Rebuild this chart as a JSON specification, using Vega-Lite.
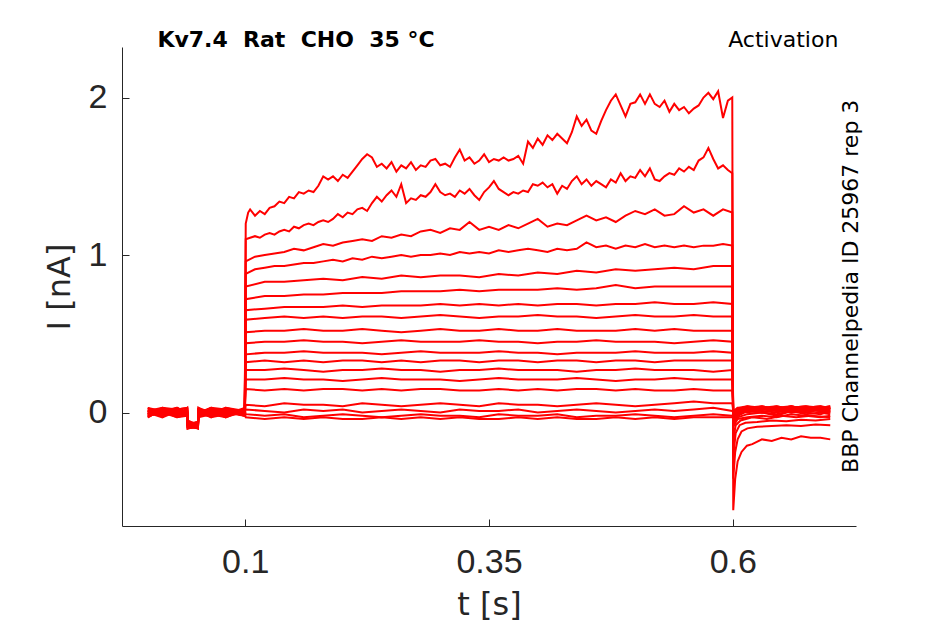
{
"$schema":"https://vega.github.io/schema/vega-lite/v6.json",
"width":734,"height":479,
"autosize":{"type":"none"},
"padding":{"left":122,"top":47,"right":89,"bottom":98},
"background":"#ffffff",
"config":{"view":{"stroke":null},"axis":{"grid":false,"labelFont":"Liberation Sans","labelFontSize":34,"labelColor":"#262626","titleFont":"DejaVu Sans","titleFontSize":32,"titleFontWeight":"normal","titleColor":"#262626","domainColor":"#262626","tickColor":"#262626","tickSize":-7,"domainWidth":1,"tickWidth":1}},
"data":{"values":[
{"s":"A","t":0,"v":0.01},{"s":"A","t":0.015,"v":-0.02},{"s":"A","t":0.03,"v":0.03},{"s":"A","t":0.0405,"v":0.0},{"s":"A","t":0.041,"v":-0.07},{"s":"A","t":0.0515,"v":-0.09},{"s":"A","t":0.052,"v":-0.01},{"s":"A","t":0.065,"v":0.03},{"s":"A","t":0.08,"v":-0.02},{"s":"A","t":0.0995,"v":0.0},
{"s":"A","t":0.1005,"v":1.20},{"s":"A","t":0.103,"v":1.27},{"s":"A","t":0.105,"v":1.29},{"s":"A","t":0.11,"v":1.25},{"s":"A","t":0.115,"v":1.28},{"s":"A","t":0.12,"v":1.26},{"s":"A","t":0.125,"v":1.30},{"s":"A","t":0.13,"v":1.31},{"s":"A","t":0.135,"v":1.34},{"s":"A","t":0.14,"v":1.33},{"s":"A","t":0.145,"v":1.37},{"s":"A","t":0.15,"v":1.36},{"s":"A","t":0.155,"v":1.40},{"s":"A","t":0.16,"v":1.39},{"s":"A","t":0.165,"v":1.41},{"s":"A","t":0.17,"v":1.40},{"s":"A","t":0.175,"v":1.44},{"s":"A","t":0.18,"v":1.50},{"s":"A","t":0.185,"v":1.48},{"s":"A","t":0.19,"v":1.50},{"s":"A","t":0.195,"v":1.47},{"s":"A","t":0.2,"v":1.51},{"s":"A","t":0.205,"v":1.49},{"s":"A","t":0.21,"v":1.53},{"s":"A","t":0.215,"v":1.57},{"s":"A","t":0.22,"v":1.61},{"s":"A","t":0.225,"v":1.64},{"s":"A","t":0.23,"v":1.62},{"s":"A","t":0.235,"v":1.56},{"s":"A","t":0.24,"v":1.58},{"s":"A","t":0.245,"v":1.55},{"s":"A","t":0.25,"v":1.59},{"s":"A","t":0.255,"v":1.53},{"s":"A","t":0.26,"v":1.57},{"s":"A","t":0.265,"v":1.55},{"s":"A","t":0.27,"v":1.59},{"s":"A","t":0.275,"v":1.54},{"s":"A","t":0.28,"v":1.57},{"s":"A","t":0.285,"v":1.56},{"s":"A","t":0.29,"v":1.60},{"s":"A","t":0.295,"v":1.61},{"s":"A","t":0.3,"v":1.57},{"s":"A","t":0.305,"v":1.58},{"s":"A","t":0.31,"v":1.56},{"s":"A","t":0.315,"v":1.62},{"s":"A","t":0.32,"v":1.67},{"s":"A","t":0.325,"v":1.60},{"s":"A","t":0.33,"v":1.62},{"s":"A","t":0.335,"v":1.58},{"s":"A","t":0.34,"v":1.60},{"s":"A","t":0.345,"v":1.64},{"s":"A","t":0.35,"v":1.59},{"s":"A","t":0.355,"v":1.61},{"s":"A","t":0.36,"v":1.60},{"s":"A","t":0.365,"v":1.62},{"s":"A","t":0.37,"v":1.60},{"s":"A","t":0.375,"v":1.61},{"s":"A","t":0.38,"v":1.63},{"s":"A","t":0.385,"v":1.58},{"s":"A","t":0.39,"v":1.72},{"s":"A","t":0.395,"v":1.68},{"s":"A","t":0.4,"v":1.74},{"s":"A","t":0.405,"v":1.70},{"s":"A","t":0.41,"v":1.76},{"s":"A","t":0.415,"v":1.73},{"s":"A","t":0.42,"v":1.77},{"s":"A","t":0.425,"v":1.74},{"s":"A","t":0.43,"v":1.71},{"s":"A","t":0.435,"v":1.78},{"s":"A","t":0.44,"v":1.88},{"s":"A","t":0.445,"v":1.82},{"s":"A","t":0.45,"v":1.86},{"s":"A","t":0.455,"v":1.79},{"s":"A","t":0.46,"v":1.77},{"s":"A","t":0.465,"v":1.85},{"s":"A","t":0.47,"v":1.92},{"s":"A","t":0.475,"v":1.98},{"s":"A","t":0.48,"v":2.02},{"s":"A","t":0.485,"v":1.95},{"s":"A","t":0.49,"v":1.88},{"s":"A","t":0.495,"v":1.96},{"s":"A","t":0.5,"v":1.97},{"s":"A","t":0.505,"v":2.02},{"s":"A","t":0.51,"v":1.96},{"s":"A","t":0.515,"v":2.02},{"s":"A","t":0.52,"v":1.96},{"s":"A","t":0.525,"v":1.94},{"s":"A","t":0.53,"v":1.98},{"s":"A","t":0.535,"v":1.91},{"s":"A","t":0.54,"v":1.96},{"s":"A","t":0.545,"v":1.92},{"s":"A","t":0.55,"v":1.94},{"s":"A","t":0.555,"v":1.90},{"s":"A","t":0.56,"v":1.93},{"s":"A","t":0.565,"v":1.95},{"s":"A","t":0.57,"v":2.00},{"s":"A","t":0.575,"v":2.03},{"s":"A","t":0.58,"v":1.99},{"s":"A","t":0.585,"v":2.04},{"s":"A","t":0.59,"v":1.87},{"s":"A","t":0.595,"v":1.98},{"s":"A","t":0.5995,"v":2.00},
{"s":"A","t":0.6005,"v":-0.62},{"s":"A","t":0.6025,"v":-0.42},{"s":"A","t":0.605,"v":-0.31},{"s":"A","t":0.609,"v":-0.25},{"s":"A","t":0.6145,"v":-0.21},{"s":"A","t":0.62,"v":-0.20},{"s":"A","t":0.63,"v":-0.17},{"s":"A","t":0.64,"v":-0.18},{"s":"A","t":0.65,"v":-0.16},{"s":"A","t":0.66,"v":-0.17},{"s":"A","t":0.67,"v":-0.15},{"s":"A","t":0.68,"v":-0.16},{"s":"A","t":0.69,"v":-0.16},{"s":"A","t":0.7,"v":-0.17},

{"s":"B","t":0,"v":-0.03},{"s":"B","t":0.015,"v":0.02},{"s":"B","t":0.03,"v":-0.01},{"s":"B","t":0.0405,"v":0.02},{"s":"B","t":0.041,"v":-0.08},{"s":"B","t":0.0515,"v":-0.06},{"s":"B","t":0.052,"v":0.02},{"s":"B","t":0.065,"v":-0.03},{"s":"B","t":0.08,"v":0.02},{"s":"B","t":0.0995,"v":-0.01},
{"s":"B","t":0.1005,"v":1.10},{"s":"B","t":0.105,"v":1.11},{"s":"B","t":0.11,"v":1.12},{"s":"B","t":0.115,"v":1.11},{"s":"B","t":0.12,"v":1.13},{"s":"B","t":0.125,"v":1.14},{"s":"B","t":0.13,"v":1.13},{"s":"B","t":0.135,"v":1.15},{"s":"B","t":0.14,"v":1.16},{"s":"B","t":0.145,"v":1.15},{"s":"B","t":0.15,"v":1.18},{"s":"B","t":0.155,"v":1.17},{"s":"B","t":0.16,"v":1.19},{"s":"B","t":0.165,"v":1.20},{"s":"B","t":0.17,"v":1.19},{"s":"B","t":0.175,"v":1.21},{"s":"B","t":0.18,"v":1.22},{"s":"B","t":0.185,"v":1.21},{"s":"B","t":0.19,"v":1.23},{"s":"B","t":0.195,"v":1.26},{"s":"B","t":0.2,"v":1.24},{"s":"B","t":0.205,"v":1.27},{"s":"B","t":0.21,"v":1.26},{"s":"B","t":0.215,"v":1.29},{"s":"B","t":0.22,"v":1.30},{"s":"B","t":0.225,"v":1.28},{"s":"B","t":0.23,"v":1.33},{"s":"B","t":0.235,"v":1.37},{"s":"B","t":0.24,"v":1.34},{"s":"B","t":0.245,"v":1.38},{"s":"B","t":0.25,"v":1.41},{"s":"B","t":0.255,"v":1.37},{"s":"B","t":0.26,"v":1.45},{"s":"B","t":0.265,"v":1.33},{"s":"B","t":0.27,"v":1.36},{"s":"B","t":0.275,"v":1.35},{"s":"B","t":0.28,"v":1.38},{"s":"B","t":0.285,"v":1.37},{"s":"B","t":0.29,"v":1.40},{"s":"B","t":0.295,"v":1.45},{"s":"B","t":0.3,"v":1.40},{"s":"B","t":0.305,"v":1.38},{"s":"B","t":0.31,"v":1.39},{"s":"B","t":0.315,"v":1.37},{"s":"B","t":0.32,"v":1.41},{"s":"B","t":0.325,"v":1.39},{"s":"B","t":0.33,"v":1.42},{"s":"B","t":0.335,"v":1.38},{"s":"B","t":0.34,"v":1.35},{"s":"B","t":0.345,"v":1.40},{"s":"B","t":0.35,"v":1.43},{"s":"B","t":0.355,"v":1.47},{"s":"B","t":0.36,"v":1.42},{"s":"B","t":0.365,"v":1.40},{"s":"B","t":0.37,"v":1.38},{"s":"B","t":0.375,"v":1.40},{"s":"B","t":0.38,"v":1.39},{"s":"B","t":0.385,"v":1.41},{"s":"B","t":0.39,"v":1.40},{"s":"B","t":0.395,"v":1.45},{"s":"B","t":0.4,"v":1.44},{"s":"B","t":0.405,"v":1.46},{"s":"B","t":0.41,"v":1.43},{"s":"B","t":0.415,"v":1.45},{"s":"B","t":0.42,"v":1.39},{"s":"B","t":0.425,"v":1.44},{"s":"B","t":0.43,"v":1.42},{"s":"B","t":0.435,"v":1.47},{"s":"B","t":0.44,"v":1.50},{"s":"B","t":0.445,"v":1.45},{"s":"B","t":0.45,"v":1.48},{"s":"B","t":0.455,"v":1.44},{"s":"B","t":0.46,"v":1.47},{"s":"B","t":0.465,"v":1.45},{"s":"B","t":0.47,"v":1.43},{"s":"B","t":0.475,"v":1.48},{"s":"B","t":0.48,"v":1.46},{"s":"B","t":0.485,"v":1.52},{"s":"B","t":0.49,"v":1.47},{"s":"B","t":0.495,"v":1.50},{"s":"B","t":0.5,"v":1.49},{"s":"B","t":0.505,"v":1.54},{"s":"B","t":0.51,"v":1.50},{"s":"B","t":0.515,"v":1.55},{"s":"B","t":0.52,"v":1.48},{"s":"B","t":0.525,"v":1.47},{"s":"B","t":0.53,"v":1.50},{"s":"B","t":0.535,"v":1.52},{"s":"B","t":0.54,"v":1.51},{"s":"B","t":0.545,"v":1.55},{"s":"B","t":0.55,"v":1.53},{"s":"B","t":0.555,"v":1.56},{"s":"B","t":0.56,"v":1.54},{"s":"B","t":0.565,"v":1.60},{"s":"B","t":0.57,"v":1.62},{"s":"B","t":0.575,"v":1.68},{"s":"B","t":0.58,"v":1.61},{"s":"B","t":0.585,"v":1.55},{"s":"B","t":0.59,"v":1.57},{"s":"B","t":0.595,"v":1.54},{"s":"B","t":0.5995,"v":1.52},
{"s":"B","t":0.6005,"v":-0.42},{"s":"B","t":0.6025,"v":-0.25},{"s":"B","t":0.605,"v":-0.17},{"s":"B","t":0.609,"v":-0.12},{"s":"B","t":0.615,"v":-0.10},{"s":"B","t":0.625,"v":-0.09},{"s":"B","t":0.64,"v":-0.085},{"s":"B","t":0.655,"v":-0.08},{"s":"B","t":0.67,"v":-0.085},{"s":"B","t":0.685,"v":-0.075},{"s":"B","t":0.7,"v":-0.08},

{"s":"C","t":0,"v":0.02},{"s":"C","t":0.015,"v":0.0},{"s":"C","t":0.03,"v":-0.03},{"s":"C","t":0.0405,"v":-0.01},{"s":"C","t":0.041,"v":-0.10},{"s":"C","t":0.0515,"v":-0.08},{"s":"C","t":0.052,"v":0.0},{"s":"C","t":0.065,"v":0.01},{"s":"C","t":0.08,"v":-0.03},{"s":"C","t":0.0995,"v":0.02},
{"s":"C","t":0.1005,"v":0.96},{"s":"C","t":0.11,"v":0.99},{"s":"C","t":0.12,"v":1.00},{"s":"C","t":0.13,"v":1.01},{"s":"C","t":0.14,"v":1.02},{"s":"C","t":0.15,"v":1.04},{"s":"C","t":0.16,"v":1.03},{"s":"C","t":0.17,"v":1.05},{"s":"C","t":0.18,"v":1.07},{"s":"C","t":0.19,"v":1.06},{"s":"C","t":0.2,"v":1.08},{"s":"C","t":0.21,"v":1.09},{"s":"C","t":0.22,"v":1.10},{"s":"C","t":0.23,"v":1.09},{"s":"C","t":0.24,"v":1.12},{"s":"C","t":0.25,"v":1.11},{"s":"C","t":0.26,"v":1.13},{"s":"C","t":0.27,"v":1.12},{"s":"C","t":0.28,"v":1.15},{"s":"C","t":0.29,"v":1.16},{"s":"C","t":0.3,"v":1.14},{"s":"C","t":0.31,"v":1.17},{"s":"C","t":0.32,"v":1.16},{"s":"C","t":0.33,"v":1.21},{"s":"C","t":0.34,"v":1.16},{"s":"C","t":0.35,"v":1.18},{"s":"C","t":0.36,"v":1.16},{"s":"C","t":0.37,"v":1.19},{"s":"C","t":0.38,"v":1.17},{"s":"C","t":0.39,"v":1.20},{"s":"C","t":0.4,"v":1.23},{"s":"C","t":0.41,"v":1.18},{"s":"C","t":0.42,"v":1.20},{"s":"C","t":0.43,"v":1.19},{"s":"C","t":0.44,"v":1.22},{"s":"C","t":0.45,"v":1.25},{"s":"C","t":0.46,"v":1.22},{"s":"C","t":0.47,"v":1.24},{"s":"C","t":0.48,"v":1.21},{"s":"C","t":0.49,"v":1.25},{"s":"C","t":0.5,"v":1.28},{"s":"C","t":0.51,"v":1.26},{"s":"C","t":0.52,"v":1.29},{"s":"C","t":0.53,"v":1.25},{"s":"C","t":0.54,"v":1.26},{"s":"C","t":0.55,"v":1.31},{"s":"C","t":0.56,"v":1.27},{"s":"C","t":0.57,"v":1.29},{"s":"C","t":0.58,"v":1.25},{"s":"C","t":0.59,"v":1.29},{"s":"C","t":0.5995,"v":1.27},
{"s":"C","t":0.6005,"v":-0.28},{"s":"C","t":0.603,"v":-0.13},{"s":"C","t":0.607,"v":-0.08},{"s":"C","t":0.613,"v":-0.065},{"s":"C","t":0.625,"v":-0.06},{"s":"C","t":0.64,"v":-0.05},{"s":"C","t":0.655,"v":-0.055},{"s":"C","t":0.67,"v":-0.045},{"s":"C","t":0.685,"v":-0.05},{"s":"C","t":0.7,"v":-0.04},

{"s":"D","t":0,"v":-0.01},{"s":"D","t":0.015,"v":0.03},{"s":"D","t":0.03,"v":0.02},{"s":"D","t":0.0405,"v":0.03},{"s":"D","t":0.041,"v":-0.06},{"s":"D","t":0.0515,"v":-0.10},{"s":"D","t":0.052,"v":-0.03},{"s":"D","t":0.065,"v":-0.01},{"s":"D","t":0.08,"v":0.01},{"s":"D","t":0.0995,"v":-0.02},
{"s":"D","t":0.1005,"v":0.88},{"s":"D","t":0.11,"v":0.91},{"s":"D","t":0.12,"v":0.92},{"s":"D","t":0.13,"v":0.93},{"s":"D","t":0.14,"v":0.93},{"s":"D","t":0.15,"v":0.94},{"s":"D","t":0.16,"v":0.95},{"s":"D","t":0.17,"v":0.95},{"s":"D","t":0.18,"v":0.96},{"s":"D","t":0.19,"v":0.97},{"s":"D","t":0.2,"v":0.96},{"s":"D","t":0.21,"v":0.98},{"s":"D","t":0.22,"v":0.97},{"s":"D","t":0.23,"v":0.99},{"s":"D","t":0.24,"v":0.98},{"s":"D","t":0.25,"v":0.99},{"s":"D","t":0.26,"v":1.00},{"s":"D","t":0.27,"v":0.99},{"s":"D","t":0.28,"v":1.00},{"s":"D","t":0.29,"v":1.00},{"s":"D","t":0.3,"v":1.01},{"s":"D","t":0.31,"v":1.00},{"s":"D","t":0.32,"v":1.02},{"s":"D","t":0.33,"v":1.01},{"s":"D","t":0.34,"v":1.02},{"s":"D","t":0.35,"v":1.01},{"s":"D","t":0.36,"v":1.03},{"s":"D","t":0.37,"v":1.02},{"s":"D","t":0.38,"v":1.03},{"s":"D","t":0.39,"v":1.04},{"s":"D","t":0.4,"v":1.03},{"s":"D","t":0.41,"v":1.02},{"s":"D","t":0.42,"v":1.04},{"s":"D","t":0.43,"v":1.03},{"s":"D","t":0.44,"v":1.04},{"s":"D","t":0.45,"v":1.08},{"s":"D","t":0.46,"v":1.05},{"s":"D","t":0.47,"v":1.06},{"s":"D","t":0.48,"v":1.04},{"s":"D","t":0.49,"v":1.06},{"s":"D","t":0.5,"v":1.05},{"s":"D","t":0.51,"v":1.07},{"s":"D","t":0.52,"v":1.05},{"s":"D","t":0.53,"v":1.06},{"s":"D","t":0.54,"v":1.05},{"s":"D","t":0.55,"v":1.06},{"s":"D","t":0.56,"v":1.05},{"s":"D","t":0.57,"v":1.06},{"s":"D","t":0.58,"v":1.06},{"s":"D","t":0.59,"v":1.07},{"s":"D","t":0.5995,"v":1.06},
{"s":"D","t":0.6005,"v":-0.18},{"s":"D","t":0.603,"v":-0.08},{"s":"D","t":0.608,"v":-0.05},{"s":"D","t":0.62,"v":-0.03},{"s":"D","t":0.635,"v":-0.04},{"s":"D","t":0.65,"v":-0.02},{"s":"D","t":0.665,"v":-0.03},{"s":"D","t":0.68,"v":-0.02},{"s":"D","t":0.7,"v":-0.03},

{"s":"E","t":0,"v":0.0},{"s":"E","t":0.015,"v":-0.03},{"s":"E","t":0.03,"v":0.01},{"s":"E","t":0.0405,"v":-0.02},{"s":"E","t":0.041,"v":-0.09},{"s":"E","t":0.0515,"v":-0.07},{"s":"E","t":0.052,"v":0.03},{"s":"E","t":0.065,"v":0.0},{"s":"E","t":0.08,"v":0.03},{"s":"E","t":0.0995,"v":0.01},
{"s":"E","t":0.1005,"v":0.80},{"s":"E","t":0.12,"v":0.83},{"s":"E","t":0.14,"v":0.83},{"s":"E","t":0.16,"v":0.84},{"s":"E","t":0.18,"v":0.85},{"s":"E","t":0.2,"v":0.84},{"s":"E","t":0.22,"v":0.86},{"s":"E","t":0.24,"v":0.85},{"s":"E","t":0.26,"v":0.87},{"s":"E","t":0.28,"v":0.86},{"s":"E","t":0.3,"v":0.87},{"s":"E","t":0.32,"v":0.87},{"s":"E","t":0.34,"v":0.86},{"s":"E","t":0.36,"v":0.88},{"s":"E","t":0.38,"v":0.87},{"s":"E","t":0.4,"v":0.89},{"s":"E","t":0.42,"v":0.88},{"s":"E","t":0.44,"v":0.90},{"s":"E","t":0.46,"v":0.89},{"s":"E","t":0.48,"v":0.91},{"s":"E","t":0.5,"v":0.90},{"s":"E","t":0.52,"v":0.91},{"s":"E","t":0.54,"v":0.92},{"s":"E","t":0.56,"v":0.91},{"s":"E","t":0.58,"v":0.93},{"s":"E","t":0.5995,"v":0.93},
{"s":"E","t":0.6005,"v":-0.09},{"s":"E","t":0.605,"v":-0.04},{"s":"E","t":0.615,"v":-0.03},{"s":"E","t":0.63,"v":-0.02},{"s":"E","t":0.645,"v":-0.03},{"s":"E","t":0.66,"v":-0.01},{"s":"E","t":0.675,"v":-0.02},{"s":"E","t":0.69,"v":-0.03},{"s":"E","t":0.7,"v":-0.02},

{"s":"F","t":0,"v":0.03},{"s":"F","t":0.015,"v":0.01},{"s":"F","t":0.03,"v":-0.02},{"s":"F","t":0.0405,"v":0.01},{"s":"F","t":0.041,"v":-0.05},{"s":"F","t":0.0515,"v":-0.08},{"s":"F","t":0.052,"v":0.0},{"s":"F","t":0.065,"v":-0.03},{"s":"F","t":0.08,"v":-0.01},{"s":"F","t":0.0995,"v":0.02},
{"s":"F","t":0.1005,"v":0.72},{"s":"F","t":0.12,"v":0.74},{"s":"F","t":0.14,"v":0.74},{"s":"F","t":0.16,"v":0.75},{"s":"F","t":0.18,"v":0.75},{"s":"F","t":0.2,"v":0.76},{"s":"F","t":0.22,"v":0.76},{"s":"F","t":0.24,"v":0.76},{"s":"F","t":0.26,"v":0.77},{"s":"F","t":0.28,"v":0.77},{"s":"F","t":0.3,"v":0.77},{"s":"F","t":0.32,"v":0.78},{"s":"F","t":0.34,"v":0.77},{"s":"F","t":0.36,"v":0.78},{"s":"F","t":0.38,"v":0.78},{"s":"F","t":0.4,"v":0.78},{"s":"F","t":0.42,"v":0.79},{"s":"F","t":0.44,"v":0.78},{"s":"F","t":0.46,"v":0.79},{"s":"F","t":0.48,"v":0.81},{"s":"F","t":0.5,"v":0.79},{"s":"F","t":0.52,"v":0.80},{"s":"F","t":0.54,"v":0.80},{"s":"F","t":0.56,"v":0.80},{"s":"F","t":0.58,"v":0.80},{"s":"F","t":0.5995,"v":0.80},
{"s":"F","t":0.6005,"v":-0.07},{"s":"F","t":0.605,"v":-0.03},{"s":"F","t":0.615,"v":-0.01},{"s":"F","t":0.63,"v":0.0},{"s":"F","t":0.645,"v":-0.02},{"s":"F","t":0.66,"v":0.01},{"s":"F","t":0.675,"v":-0.01},{"s":"F","t":0.69,"v":0.0},{"s":"F","t":0.7,"v":-0.01},

{"s":"G","t":0,"v":-0.02},{"s":"G","t":0.015,"v":0.0},{"s":"G","t":0.03,"v":0.03},{"s":"G","t":0.0405,"v":0.0},{"s":"G","t":0.041,"v":-0.08},{"s":"G","t":0.0515,"v":-0.10},{"s":"G","t":0.052,"v":0.01},{"s":"G","t":0.065,"v":0.02},{"s":"G","t":0.08,"v":0.0},{"s":"G","t":0.0995,"v":-0.02},
{"s":"G","t":0.1005,"v":0.65},{"s":"G","t":0.12,"v":0.66},{"s":"G","t":0.14,"v":0.67},{"s":"G","t":0.16,"v":0.67},{"s":"G","t":0.18,"v":0.67},{"s":"G","t":0.2,"v":0.68},{"s":"G","t":0.22,"v":0.67},{"s":"G","t":0.24,"v":0.68},{"s":"G","t":0.26,"v":0.68},{"s":"G","t":0.28,"v":0.68},{"s":"G","t":0.3,"v":0.69},{"s":"G","t":0.32,"v":0.68},{"s":"G","t":0.34,"v":0.69},{"s":"G","t":0.36,"v":0.68},{"s":"G","t":0.38,"v":0.69},{"s":"G","t":0.4,"v":0.68},{"s":"G","t":0.42,"v":0.69},{"s":"G","t":0.44,"v":0.69},{"s":"G","t":0.46,"v":0.68},{"s":"G","t":0.48,"v":0.69},{"s":"G","t":0.5,"v":0.69},{"s":"G","t":0.52,"v":0.70},{"s":"G","t":0.54,"v":0.69},{"s":"G","t":0.56,"v":0.69},{"s":"G","t":0.58,"v":0.70},{"s":"G","t":0.5995,"v":0.69},
{"s":"G","t":0.6005,"v":-0.06},{"s":"G","t":0.605,"v":-0.02},{"s":"G","t":0.615,"v":0.01},{"s":"G","t":0.63,"v":0.0},{"s":"G","t":0.645,"v":0.02},{"s":"G","t":0.66,"v":0.0},{"s":"G","t":0.675,"v":0.01},{"s":"G","t":0.69,"v":0.02},{"s":"G","t":0.7,"v":0.0},

{"s":"H","t":0,"v":0.01},{"s":"H","t":0.015,"v":-0.02},{"s":"H","t":0.03,"v":0.0},{"s":"H","t":0.0405,"v":-0.02},{"s":"H","t":0.041,"v":-0.07},{"s":"H","t":0.0515,"v":-0.06},{"s":"H","t":0.052,"v":-0.01},{"s":"H","t":0.065,"v":0.03},{"s":"H","t":0.08,"v":0.02},{"s":"H","t":0.0995,"v":0.0},
{"s":"H","t":0.1005,"v":0.59},{"s":"H","t":0.12,"v":0.60},{"s":"H","t":0.14,"v":0.61},{"s":"H","t":0.16,"v":0.60},{"s":"H","t":0.18,"v":0.61},{"s":"H","t":0.2,"v":0.60},{"s":"H","t":0.22,"v":0.61},{"s":"H","t":0.24,"v":0.61},{"s":"H","t":0.26,"v":0.60},{"s":"H","t":0.28,"v":0.61},{"s":"H","t":0.3,"v":0.62},{"s":"H","t":0.32,"v":0.61},{"s":"H","t":0.34,"v":0.60},{"s":"H","t":0.36,"v":0.61},{"s":"H","t":0.38,"v":0.61},{"s":"H","t":0.4,"v":0.62},{"s":"H","t":0.42,"v":0.61},{"s":"H","t":0.44,"v":0.61},{"s":"H","t":0.46,"v":0.60},{"s":"H","t":0.48,"v":0.61},{"s":"H","t":0.5,"v":0.62},{"s":"H","t":0.52,"v":0.61},{"s":"H","t":0.54,"v":0.61},{"s":"H","t":0.56,"v":0.62},{"s":"H","t":0.58,"v":0.61},{"s":"H","t":0.5995,"v":0.61},
{"s":"H","t":0.6005,"v":-0.05},{"s":"H","t":0.605,"v":-0.01},{"s":"H","t":0.615,"v":0.02},{"s":"H","t":0.63,"v":0.01},{"s":"H","t":0.645,"v":0.0},{"s":"H","t":0.66,"v":0.02},{"s":"H","t":0.675,"v":0.03},{"s":"H","t":0.69,"v":0.01},{"s":"H","t":0.7,"v":0.02},

{"s":"I","t":0,"v":-0.02},{"s":"I","t":0.015,"v":0.02},{"s":"I","t":0.03,"v":-0.02},{"s":"I","t":0.0405,"v":0.03},{"s":"I","t":0.041,"v":-0.10},{"s":"I","t":0.0515,"v":-0.09},{"s":"I","t":0.052,"v":0.02},{"s":"I","t":0.065,"v":-0.01},{"s":"I","t":0.08,"v":-0.03},{"s":"I","t":0.0995,"v":0.01},
{"s":"I","t":0.1005,"v":0.51},{"s":"I","t":0.12,"v":0.52},{"s":"I","t":0.14,"v":0.52},{"s":"I","t":0.16,"v":0.53},{"s":"I","t":0.18,"v":0.52},{"s":"I","t":0.2,"v":0.52},{"s":"I","t":0.22,"v":0.53},{"s":"I","t":0.24,"v":0.52},{"s":"I","t":0.26,"v":0.51},{"s":"I","t":0.28,"v":0.52},{"s":"I","t":0.3,"v":0.53},{"s":"I","t":0.32,"v":0.52},{"s":"I","t":0.34,"v":0.52},{"s":"I","t":0.36,"v":0.53},{"s":"I","t":0.38,"v":0.52},{"s":"I","t":0.4,"v":0.52},{"s":"I","t":0.42,"v":0.53},{"s":"I","t":0.44,"v":0.52},{"s":"I","t":0.46,"v":0.52},{"s":"I","t":0.48,"v":0.52},{"s":"I","t":0.5,"v":0.53},{"s":"I","t":0.52,"v":0.52},{"s":"I","t":0.54,"v":0.53},{"s":"I","t":0.56,"v":0.52},{"s":"I","t":0.58,"v":0.52},{"s":"I","t":0.5995,"v":0.52},
{"s":"I","t":0.6005,"v":-0.04},{"s":"I","t":0.605,"v":0.0},{"s":"I","t":0.615,"v":0.01},{"s":"I","t":0.63,"v":0.03},{"s":"I","t":0.645,"v":0.01},{"s":"I","t":0.66,"v":0.02},{"s":"I","t":0.675,"v":0.0},{"s":"I","t":0.69,"v":0.02},{"s":"I","t":0.7,"v":0.03},

{"s":"J","t":0,"v":0.03},{"s":"J","t":0.015,"v":-0.01},{"s":"J","t":0.03,"v":0.01},{"s":"J","t":0.0405,"v":0.0},{"s":"J","t":0.041,"v":-0.06},{"s":"J","t":0.0515,"v":-0.07},{"s":"J","t":0.052,"v":0.0},{"s":"J","t":0.065,"v":0.02},{"s":"J","t":0.08,"v":0.01},{"s":"J","t":0.0995,"v":-0.02},
{"s":"J","t":0.1005,"v":0.44},{"s":"J","t":0.12,"v":0.45},{"s":"J","t":0.14,"v":0.45},{"s":"J","t":0.16,"v":0.46},{"s":"J","t":0.18,"v":0.45},{"s":"J","t":0.2,"v":0.45},{"s":"J","t":0.22,"v":0.44},{"s":"J","t":0.24,"v":0.45},{"s":"J","t":0.26,"v":0.46},{"s":"J","t":0.28,"v":0.45},{"s":"J","t":0.3,"v":0.45},{"s":"J","t":0.32,"v":0.45},{"s":"J","t":0.34,"v":0.46},{"s":"J","t":0.36,"v":0.45},{"s":"J","t":0.38,"v":0.45},{"s":"J","t":0.4,"v":0.44},{"s":"J","t":0.42,"v":0.45},{"s":"J","t":0.44,"v":0.45},{"s":"J","t":0.46,"v":0.46},{"s":"J","t":0.48,"v":0.45},{"s":"J","t":0.5,"v":0.45},{"s":"J","t":0.52,"v":0.45},{"s":"J","t":0.54,"v":0.44},{"s":"J","t":0.56,"v":0.45},{"s":"J","t":0.58,"v":0.46},{"s":"J","t":0.5995,"v":0.45},
{"s":"J","t":0.6005,"v":-0.03},{"s":"J","t":0.605,"v":0.01},{"s":"J","t":0.615,"v":0.03},{"s":"J","t":0.63,"v":0.02},{"s":"J","t":0.645,"v":0.03},{"s":"J","t":0.66,"v":0.01},{"s":"J","t":0.675,"v":0.02},{"s":"J","t":0.69,"v":0.03},{"s":"J","t":0.7,"v":0.01},

{"s":"K","t":0,"v":0.0},{"s":"K","t":0.015,"v":0.01},{"s":"K","t":0.03,"v":-0.03},{"s":"K","t":0.0405,"v":-0.02},{"s":"K","t":0.041,"v":-0.09},{"s":"K","t":0.0515,"v":-0.10},{"s":"K","t":0.052,"v":-0.02},{"s":"K","t":0.065,"v":0.0},{"s":"K","t":0.08,"v":-0.01},{"s":"K","t":0.0995,"v":0.03},
{"s":"K","t":0.1005,"v":0.37},{"s":"K","t":0.12,"v":0.38},{"s":"K","t":0.14,"v":0.38},{"s":"K","t":0.16,"v":0.39},{"s":"K","t":0.18,"v":0.38},{"s":"K","t":0.2,"v":0.38},{"s":"K","t":0.22,"v":0.38},{"s":"K","t":0.24,"v":0.37},{"s":"K","t":0.26,"v":0.38},{"s":"K","t":0.28,"v":0.39},{"s":"K","t":0.3,"v":0.38},{"s":"K","t":0.32,"v":0.38},{"s":"K","t":0.34,"v":0.38},{"s":"K","t":0.36,"v":0.39},{"s":"K","t":0.38,"v":0.38},{"s":"K","t":0.4,"v":0.38},{"s":"K","t":0.42,"v":0.37},{"s":"K","t":0.44,"v":0.38},{"s":"K","t":0.46,"v":0.38},{"s":"K","t":0.48,"v":0.38},{"s":"K","t":0.5,"v":0.39},{"s":"K","t":0.52,"v":0.38},{"s":"K","t":0.54,"v":0.38},{"s":"K","t":0.56,"v":0.38},{"s":"K","t":0.58,"v":0.39},{"s":"K","t":0.5995,"v":0.38},
{"s":"K","t":0.6005,"v":-0.02},{"s":"K","t":0.605,"v":0.02},{"s":"K","t":0.615,"v":0.01},{"s":"K","t":0.63,"v":0.03},{"s":"K","t":0.645,"v":0.02},{"s":"K","t":0.66,"v":0.04},{"s":"K","t":0.675,"v":0.02},{"s":"K","t":0.69,"v":0.01},{"s":"K","t":0.7,"v":0.03},

{"s":"L","t":0,"v":-0.02},{"s":"L","t":0.015,"v":0.0},{"s":"L","t":0.03,"v":0.02},{"s":"L","t":0.0405,"v":0.01},{"s":"L","t":0.041,"v":-0.07},{"s":"L","t":0.0515,"v":-0.08},{"s":"L","t":0.052,"v":0.03},{"s":"L","t":0.065,"v":-0.02},{"s":"L","t":0.08,"v":0.02},{"s":"L","t":0.0995,"v":0.0},
{"s":"L","t":0.1005,"v":0.32},{"s":"L","t":0.12,"v":0.33},{"s":"L","t":0.14,"v":0.32},{"s":"L","t":0.16,"v":0.33},{"s":"L","t":0.18,"v":0.32},{"s":"L","t":0.2,"v":0.33},{"s":"L","t":0.22,"v":0.33},{"s":"L","t":0.24,"v":0.32},{"s":"L","t":0.26,"v":0.33},{"s":"L","t":0.28,"v":0.32},{"s":"L","t":0.3,"v":0.33},{"s":"L","t":0.32,"v":0.33},{"s":"L","t":0.34,"v":0.32},{"s":"L","t":0.36,"v":0.33},{"s":"L","t":0.38,"v":0.33},{"s":"L","t":0.4,"v":0.32},{"s":"L","t":0.42,"v":0.33},{"s":"L","t":0.44,"v":0.33},{"s":"L","t":0.46,"v":0.32},{"s":"L","t":0.48,"v":0.33},{"s":"L","t":0.5,"v":0.33},{"s":"L","t":0.52,"v":0.32},{"s":"L","t":0.54,"v":0.33},{"s":"L","t":0.56,"v":0.33},{"s":"L","t":0.58,"v":0.33},{"s":"L","t":0.5995,"v":0.33},
{"s":"L","t":0.6005,"v":-0.02},{"s":"L","t":0.605,"v":0.01},{"s":"L","t":0.615,"v":0.03},{"s":"L","t":0.63,"v":0.02},{"s":"L","t":0.645,"v":0.04},{"s":"L","t":0.66,"v":0.02},{"s":"L","t":0.675,"v":0.03},{"s":"L","t":0.69,"v":0.04},{"s":"L","t":0.7,"v":0.02},

{"s":"M","t":0,"v":0.01},{"s":"M","t":0.015,"v":0.03},{"s":"M","t":0.03,"v":0.0},{"s":"M","t":0.0405,"v":-0.01},{"s":"M","t":0.041,"v":-0.10},{"s":"M","t":0.0515,"v":-0.06},{"s":"M","t":0.052,"v":0.02},{"s":"M","t":0.065,"v":0.01},{"s":"M","t":0.08,"v":0.0},{"s":"M","t":0.0995,"v":-0.01},
{"s":"M","t":0.1005,"v":0.27},{"s":"M","t":0.12,"v":0.27},{"s":"M","t":0.14,"v":0.28},{"s":"M","t":0.16,"v":0.27},{"s":"M","t":0.18,"v":0.26},{"s":"M","t":0.2,"v":0.27},{"s":"M","t":0.22,"v":0.27},{"s":"M","t":0.24,"v":0.28},{"s":"M","t":0.26,"v":0.27},{"s":"M","t":0.28,"v":0.27},{"s":"M","t":0.3,"v":0.26},{"s":"M","t":0.32,"v":0.27},{"s":"M","t":0.34,"v":0.27},{"s":"M","t":0.36,"v":0.28},{"s":"M","t":0.38,"v":0.27},{"s":"M","t":0.4,"v":0.27},{"s":"M","t":0.42,"v":0.27},{"s":"M","t":0.44,"v":0.26},{"s":"M","t":0.46,"v":0.27},{"s":"M","t":0.48,"v":0.27},{"s":"M","t":0.5,"v":0.28},{"s":"M","t":0.52,"v":0.27},{"s":"M","t":0.54,"v":0.27},{"s":"M","t":0.56,"v":0.27},{"s":"M","t":0.58,"v":0.26},{"s":"M","t":0.5995,"v":0.27},
{"s":"M","t":0.6005,"v":-0.01},{"s":"M","t":0.605,"v":0.02},{"s":"M","t":0.615,"v":0.02},{"s":"M","t":0.63,"v":0.04},{"s":"M","t":0.645,"v":0.02},{"s":"M","t":0.66,"v":0.03},{"s":"M","t":0.675,"v":0.04},{"s":"M","t":0.69,"v":0.02},{"s":"M","t":0.7,"v":0.03},

{"s":"N","t":0,"v":-0.01},{"s":"N","t":0.015,"v":-0.01},{"s":"N","t":0.03,"v":0.02},{"s":"N","t":0.0405,"v":0.03},{"s":"N","t":0.041,"v":-0.08},{"s":"N","t":0.0515,"v":-0.09},{"s":"N","t":0.052,"v":0.0},{"s":"N","t":0.065,"v":0.02},{"s":"N","t":0.08,"v":-0.02},{"s":"N","t":0.0995,"v":0.01},
{"s":"N","t":0.1005,"v":0.21},{"s":"N","t":0.12,"v":0.21},{"s":"N","t":0.14,"v":0.22},{"s":"N","t":0.16,"v":0.21},{"s":"N","t":0.18,"v":0.21},{"s":"N","t":0.2,"v":0.20},{"s":"N","t":0.22,"v":0.21},{"s":"N","t":0.24,"v":0.22},{"s":"N","t":0.26,"v":0.21},{"s":"N","t":0.28,"v":0.21},{"s":"N","t":0.3,"v":0.21},{"s":"N","t":0.32,"v":0.20},{"s":"N","t":0.34,"v":0.21},{"s":"N","t":0.36,"v":0.22},{"s":"N","t":0.38,"v":0.21},{"s":"N","t":0.4,"v":0.21},{"s":"N","t":0.42,"v":0.21},{"s":"N","t":0.44,"v":0.22},{"s":"N","t":0.46,"v":0.21},{"s":"N","t":0.48,"v":0.20},{"s":"N","t":0.5,"v":0.21},{"s":"N","t":0.52,"v":0.21},{"s":"N","t":0.54,"v":0.22},{"s":"N","t":0.56,"v":0.21},{"s":"N","t":0.58,"v":0.21},{"s":"N","t":0.5995,"v":0.21},
{"s":"N","t":0.6005,"v":-0.01},{"s":"N","t":0.605,"v":0.03},{"s":"N","t":0.615,"v":0.04},{"s":"N","t":0.63,"v":0.02},{"s":"N","t":0.645,"v":0.03},{"s":"N","t":0.66,"v":0.04},{"s":"N","t":0.675,"v":0.02},{"s":"N","t":0.69,"v":0.03},{"s":"N","t":0.7,"v":0.04},

{"s":"O","t":0,"v":0.02},{"s":"O","t":0.015,"v":0.01},{"s":"O","t":0.03,"v":-0.02},{"s":"O","t":0.0405,"v":0.0},{"s":"O","t":0.041,"v":-0.06},{"s":"O","t":0.0515,"v":-0.10},{"s":"O","t":0.052,"v":-0.01},{"s":"O","t":0.065,"v":-0.02},{"s":"O","t":0.08,"v":0.03},{"s":"O","t":0.0995,"v":0.0},
{"s":"O","t":0.1005,"v":0.15},{"s":"O","t":0.12,"v":0.14},{"s":"O","t":0.14,"v":0.15},{"s":"O","t":0.16,"v":0.14},{"s":"O","t":0.18,"v":0.15},{"s":"O","t":0.2,"v":0.15},{"s":"O","t":0.22,"v":0.14},{"s":"O","t":0.24,"v":0.15},{"s":"O","t":0.26,"v":0.14},{"s":"O","t":0.28,"v":0.15},{"s":"O","t":0.3,"v":0.15},{"s":"O","t":0.32,"v":0.14},{"s":"O","t":0.34,"v":0.14},{"s":"O","t":0.36,"v":0.15},{"s":"O","t":0.38,"v":0.14},{"s":"O","t":0.4,"v":0.15},{"s":"O","t":0.42,"v":0.14},{"s":"O","t":0.44,"v":0.15},{"s":"O","t":0.46,"v":0.15},{"s":"O","t":0.48,"v":0.14},{"s":"O","t":0.5,"v":0.15},{"s":"O","t":0.52,"v":0.14},{"s":"O","t":0.54,"v":0.14},{"s":"O","t":0.56,"v":0.15},{"s":"O","t":0.58,"v":0.14},{"s":"O","t":0.5995,"v":0.14},
{"s":"O","t":0.6005,"v":0.0},{"s":"O","t":0.605,"v":0.02},{"s":"O","t":0.615,"v":0.03},{"s":"O","t":0.63,"v":0.04},{"s":"O","t":0.645,"v":0.02},{"s":"O","t":0.66,"v":0.03},{"s":"O","t":0.675,"v":0.04},{"s":"O","t":0.69,"v":0.03},{"s":"O","t":0.7,"v":0.02},

{"s":"P","t":0,"v":0.0},{"s":"P","t":0.015,"v":-0.02},{"s":"P","t":0.03,"v":0.01},{"s":"P","t":0.0405,"v":0.01},{"s":"P","t":0.041,"v":-0.09},{"s":"P","t":0.0515,"v":-0.07},{"s":"P","t":0.052,"v":0.02},{"s":"P","t":0.065,"v":0.0},{"s":"P","t":0.08,"v":0.02},{"s":"P","t":0.0995,"v":-0.02},
{"s":"P","t":0.1005,"v":0.05},{"s":"P","t":0.12,"v":0.04},{"s":"P","t":0.14,"v":0.06},{"s":"P","t":0.16,"v":0.05},{"s":"P","t":0.18,"v":0.05},{"s":"P","t":0.2,"v":0.04},{"s":"P","t":0.22,"v":0.06},{"s":"P","t":0.24,"v":0.05},{"s":"P","t":0.26,"v":0.04},{"s":"P","t":0.28,"v":0.05},{"s":"P","t":0.3,"v":0.06},{"s":"P","t":0.32,"v":0.05},{"s":"P","t":0.34,"v":0.04},{"s":"P","t":0.36,"v":0.06},{"s":"P","t":0.38,"v":0.05},{"s":"P","t":0.4,"v":0.05},{"s":"P","t":0.42,"v":0.04},{"s":"P","t":0.44,"v":0.05},{"s":"P","t":0.46,"v":0.06},{"s":"P","t":0.48,"v":0.05},{"s":"P","t":0.5,"v":0.04},{"s":"P","t":0.52,"v":0.05},{"s":"P","t":0.54,"v":0.06},{"s":"P","t":0.56,"v":0.07},{"s":"P","t":0.58,"v":0.06},{"s":"P","t":0.5995,"v":0.06},
{"s":"P","t":0.6005,"v":0.01},{"s":"P","t":0.605,"v":0.03},{"s":"P","t":0.615,"v":0.02},{"s":"P","t":0.63,"v":0.03},{"s":"P","t":0.645,"v":0.04},{"s":"P","t":0.66,"v":0.02},{"s":"P","t":0.675,"v":0.03},{"s":"P","t":0.69,"v":0.04},{"s":"P","t":0.7,"v":0.03},

{"s":"Q","t":0,"v":-0.03},{"s":"Q","t":0.015,"v":0.02},{"s":"Q","t":0.03,"v":0.0},{"s":"Q","t":0.0405,"v":-0.02},{"s":"Q","t":0.041,"v":-0.07},{"s":"Q","t":0.0515,"v":-0.08},{"s":"Q","t":0.052,"v":0.0},{"s":"Q","t":0.065,"v":0.03},{"s":"Q","t":0.08,"v":-0.01},{"s":"Q","t":0.0995,"v":0.01},
{"s":"Q","t":0.1005,"v":0.02},{"s":"Q","t":0.12,"v":0.01},{"s":"Q","t":0.14,"v":0.0},{"s":"Q","t":0.16,"v":0.02},{"s":"Q","t":0.18,"v":0.01},{"s":"Q","t":0.2,"v":0.02},{"s":"Q","t":0.22,"v":0.0},{"s":"Q","t":0.24,"v":0.01},{"s":"Q","t":0.26,"v":0.02},{"s":"Q","t":0.28,"v":0.01},{"s":"Q","t":0.3,"v":0.0},{"s":"Q","t":0.32,"v":0.02},{"s":"Q","t":0.34,"v":0.01},{"s":"Q","t":0.36,"v":0.01},{"s":"Q","t":0.38,"v":0.02},{"s":"Q","t":0.4,"v":0.0},{"s":"Q","t":0.42,"v":0.01},{"s":"Q","t":0.44,"v":0.02},{"s":"Q","t":0.46,"v":0.01},{"s":"Q","t":0.48,"v":0.0},{"s":"Q","t":0.5,"v":0.01},{"s":"Q","t":0.52,"v":0.02},{"s":"Q","t":0.54,"v":0.01},{"s":"Q","t":0.56,"v":0.02},{"s":"Q","t":0.58,"v":0.03},{"s":"Q","t":0.5995,"v":0.01},
{"s":"Q","t":0.6005,"v":0.0},{"s":"Q","t":0.605,"v":0.02},{"s":"Q","t":0.615,"v":0.04},{"s":"Q","t":0.63,"v":0.03},{"s":"Q","t":0.645,"v":0.02},{"s":"Q","t":0.66,"v":0.04},{"s":"Q","t":0.675,"v":0.02},{"s":"Q","t":0.69,"v":0.03},{"s":"Q","t":0.7,"v":0.04},

{"s":"R","t":0,"v":0.01},{"s":"R","t":0.015,"v":0.0},{"s":"R","t":0.03,"v":-0.01},{"s":"R","t":0.0405,"v":0.02},{"s":"R","t":0.041,"v":-0.10},{"s":"R","t":0.0515,"v":-0.09},{"s":"R","t":0.052,"v":0.01},{"s":"R","t":0.065,"v":-0.02},{"s":"R","t":0.08,"v":0.0},{"s":"R","t":0.0995,"v":0.02},
{"s":"R","t":0.1005,"v":-0.01},{"s":"R","t":0.12,"v":-0.02},{"s":"R","t":0.14,"v":-0.01},{"s":"R","t":0.16,"v":-0.03},{"s":"R","t":0.18,"v":-0.02},{"s":"R","t":0.2,"v":-0.01},{"s":"R","t":0.22,"v":-0.02},{"s":"R","t":0.24,"v":-0.03},{"s":"R","t":0.26,"v":-0.02},{"s":"R","t":0.28,"v":-0.01},{"s":"R","t":0.3,"v":-0.02},{"s":"R","t":0.32,"v":-0.02},{"s":"R","t":0.34,"v":-0.03},{"s":"R","t":0.36,"v":-0.01},{"s":"R","t":0.38,"v":-0.02},{"s":"R","t":0.4,"v":-0.02},{"s":"R","t":0.42,"v":-0.01},{"s":"R","t":0.44,"v":-0.03},{"s":"R","t":0.46,"v":-0.02},{"s":"R","t":0.48,"v":-0.02},{"s":"R","t":0.5,"v":-0.01},{"s":"R","t":0.52,"v":-0.02},{"s":"R","t":0.54,"v":-0.03},{"s":"R","t":0.56,"v":-0.02},{"s":"R","t":0.58,"v":-0.01},{"s":"R","t":0.5995,"v":-0.02},
{"s":"R","t":0.6005,"v":-0.01},{"s":"R","t":0.605,"v":0.01},{"s":"R","t":0.615,"v":0.0},{"s":"R","t":0.63,"v":0.02},{"s":"R","t":0.645,"v":0.01},{"s":"R","t":0.66,"v":0.0},{"s":"R","t":0.675,"v":0.02},{"s":"R","t":0.69,"v":0.01},{"s":"R","t":0.7,"v":0.0},

{"s":"S","t":0,"v":-0.01},{"s":"S","t":0.015,"v":0.01},{"s":"S","t":0.03,"v":0.03},{"s":"S","t":0.0405,"v":-0.01},{"s":"S","t":0.041,"v":-0.08},{"s":"S","t":0.0515,"v":-0.06},{"s":"S","t":0.052,"v":-0.02},{"s":"S","t":0.065,"v":0.01},{"s":"S","t":0.08,"v":0.02},{"s":"S","t":0.0995,"v":0.0},
{"s":"S","t":0.1005,"v":-0.03},{"s":"S","t":0.12,"v":-0.04},{"s":"S","t":0.14,"v":-0.03},{"s":"S","t":0.16,"v":-0.04},{"s":"S","t":0.18,"v":-0.03},{"s":"S","t":0.2,"v":-0.04},{"s":"S","t":0.22,"v":-0.04},{"s":"S","t":0.24,"v":-0.03},{"s":"S","t":0.26,"v":-0.04},{"s":"S","t":0.28,"v":-0.03},{"s":"S","t":0.3,"v":-0.04},{"s":"S","t":0.32,"v":-0.03},{"s":"S","t":0.34,"v":-0.04},{"s":"S","t":0.36,"v":-0.04},{"s":"S","t":0.38,"v":-0.03},{"s":"S","t":0.4,"v":-0.04},{"s":"S","t":0.42,"v":-0.03},{"s":"S","t":0.44,"v":-0.04},{"s":"S","t":0.46,"v":-0.04},{"s":"S","t":0.48,"v":-0.03},{"s":"S","t":0.5,"v":-0.04},{"s":"S","t":0.52,"v":-0.03},{"s":"S","t":0.54,"v":-0.04},{"s":"S","t":0.56,"v":-0.03},{"s":"S","t":0.58,"v":-0.03},{"s":"S","t":0.5995,"v":-0.03},
{"s":"S","t":0.6005,"v":-0.02},{"s":"S","t":0.605,"v":-0.01},{"s":"S","t":0.615,"v":0.01},{"s":"S","t":0.63,"v":0.0},{"s":"S","t":0.645,"v":-0.01},{"s":"S","t":0.66,"v":0.01},{"s":"S","t":0.675,"v":0.0},{"s":"S","t":0.69,"v":-0.01},{"s":"S","t":0.7,"v":0.01}
]},
"layer":[
{"mark":{"type":"line","color":"#ff0000","strokeWidth":2},
 "encoding":{
  "x":{"field":"t","type":"quantitative","scale":{"domain":[-0.0264,0.7264],"nice":false,"zero":false},"axis":{"values":[0.1,0.35,0.6],"title":"t [s]","labelPadding":26,"titlePadding":10,"format":"~g"}},
  "y":{"field":"v","type":"quantitative","scale":{"domain":[-0.72,2.321],"nice":false,"zero":false},"axis":{"values":[0,1,2],"title":"I [nA]","labelPadding":22,"titlePadding":12,"format":"~g"}},
  "detail":{"field":"s"}}},
{"data":{"values":[{"label":"Kv7.4\u00a0\u00a0Rat\u00a0\u00a0CHO\u00a0\u00a035 °C"}]},
 "mark":{"type":"text","font":"DejaVu Sans","fontSize":22,"fontWeight":"bold","align":"left","baseline":"alphabetic","color":"#000000"},
 "encoding":{"x":{"datum":0.0099,"type":"quantitative"},"y":{"datum":2.321,"type":"quantitative"},"text":{"field":"label"}}},
{"data":{"values":[{"label":"Activation"}]},
 "mark":{"type":"text","font":"DejaVu Sans","fontSize":22,"align":"right","baseline":"alphabetic","color":"#000000"},
 "encoding":{"x":{"datum":0.7083,"type":"quantitative"},"y":{"datum":2.321,"type":"quantitative"},"text":{"field":"label"}}},
{"data":{"values":[{"label":"BBP Channelpedia ID 25967 rep 3"}]},
 "mark":{"type":"text","font":"DejaVu Sans","fontSize":22,"align":"center","baseline":"alphabetic","angle":270,"color":"#000000"},
 "encoding":{"x":{"datum":0.7281,"type":"quantitative"},"y":{"datum":0.802,"type":"quantitative"},"text":{"field":"label"}}}
]
}
